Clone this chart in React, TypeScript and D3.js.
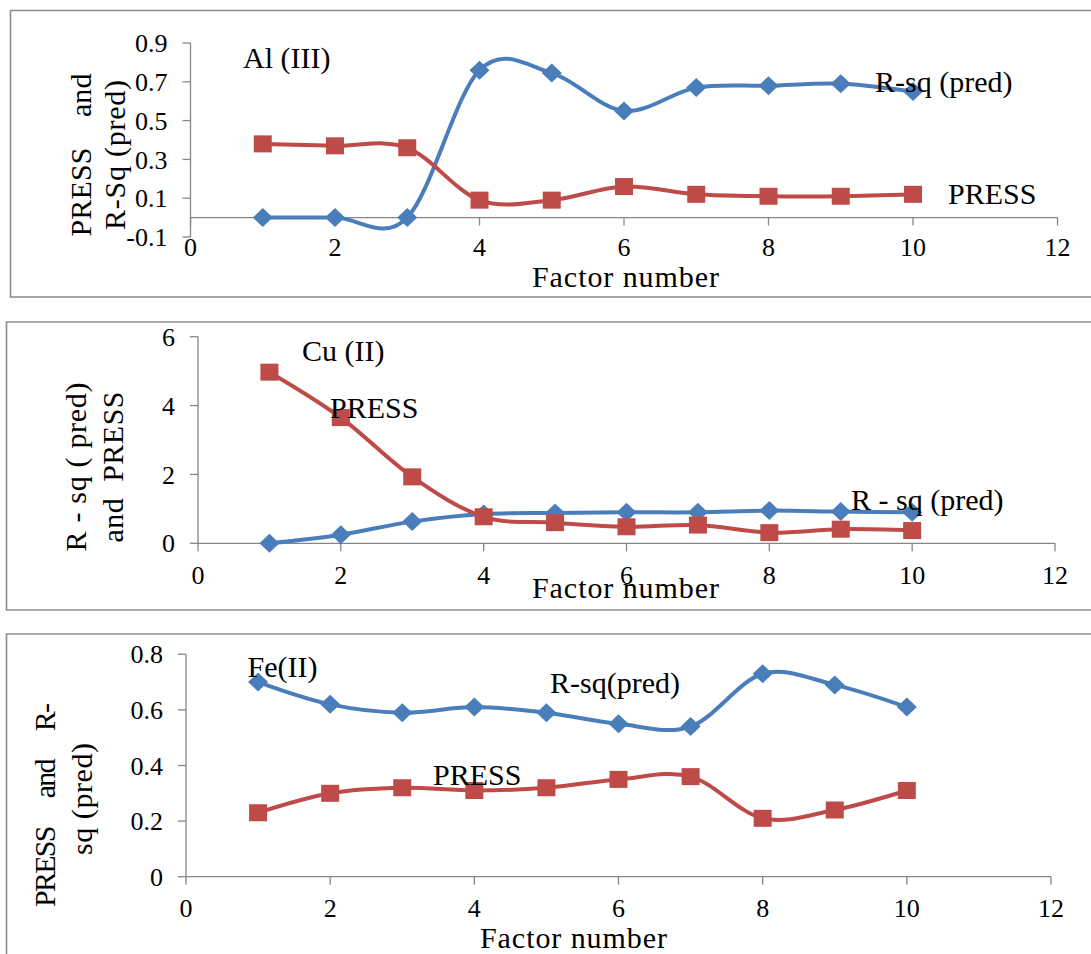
import * as d3 from "d3";

const factors = [1, 2, 3, 4, 5, 6, 7, 8, 9, 10];
const xTicks = [0, 2, 4, 6, 8, 10, 12];

// Al (III)
const alRsq = [0, 0, 0, 0.76, 0.745, 0.55, 0.67, 0.68, 0.69, 0.65];
const alPress = [0.38, 0.37, 0.36, 0.09, 0.09, 0.16, 0.12, 0.11, 0.11, 0.12];
const alYTicks = [-0.1, 0.1, 0.3, 0.5, 0.7, 0.9];

// Cu (II)
const cuRsq = [0, 0.25, 0.63, 0.85, 0.88, 0.9, 0.9, 0.95, 0.92, 0.9];
const cuPress = [4.97, 3.65, 1.93, 0.77, 0.6, 0.48, 0.53, 0.31, 0.41, 0.37];
const cuYTicks = [0, 2, 4, 6];

// Fe (II)
const feRsq = [0.7, 0.62, 0.59, 0.61, 0.59, 0.55, 0.54, 0.73, 0.69, 0.61];
const fePress = [0.23, 0.3, 0.32, 0.31, 0.32, 0.35, 0.36, 0.21, 0.24, 0.31];
const feYTicks = [0, 0.2, 0.4, 0.6, 0.8];

const BLUE = "#4A7EBB";
const RED = "#BE4B48";
const AXIS = "#868686";
const FONT = "'Liberation Serif', 'Times New Roman', serif";

type Label = { text: string; x: number; y: number };
type Panel = {
  frame: { x: number; y: number; bottom: number | null };
  xRange: [number, number];
  yRange: [number, number];
  yTicks: number[];
  rsq: number[];
  press: number[];
  tickBaseline: number;
  title: { x: number; y: number };
  yTitles: { text: string; cx: number; cy: number; len: number }[];
  labels: Label[];
};

const panels: Panel[] = [
  {
    frame: { x: 10.5, y: 10.5, bottom: 297 },
    xRange: [190.5, 1057.5],
    yRange: [237, 43],
    yTicks: alYTicks,
    rsq: alRsq,
    press: alPress,
    tickBaseline: 256,
    title: { x: 532, y: 287 },
    yTitles: [
      { text: "PRESS    and", cx: 81, cy: 155, len: 163 },
      { text: "R-Sq (pred)", cx: 115, cy: 155, len: 150 },
    ],
    labels: [
      { text: "Al (III)", x: 243, y: 68 },
      { text: "R-sq (pred)", x: 875, y: 92 },
      { text: "PRESS", x: 948, y: 204 },
    ],
  },
  {
    frame: { x: 6.5, y: 322, bottom: 610 },
    xRange: [198, 1055],
    yRange: [543.3, 336.7],
    yTicks: cuYTicks,
    rsq: cuRsq,
    press: cuPress,
    tickBaseline: 584,
    title: { x: 532, y: 598 },
    yTitles: [
      { text: "R - sq ( pred)", cx: 76, cy: 467, len: 169 },
      { text: "and  PRESS", cx: 113, cy: 467, len: 151 },
    ],
    labels: [
      { text: "Cu (II)", x: 302, y: 360.7 },
      { text: "PRESS", x: 330, y: 418 },
      { text: "R - sq (pred)", x: 851, y: 510 },
    ],
  },
  {
    frame: { x: 6.5, y: 634, bottom: null },
    xRange: [186, 1051],
    yRange: [876.7, 654.3],
    yTicks: feYTicks,
    rsq: feRsq,
    press: fePress,
    tickBaseline: 916.5,
    title: { x: 480, y: 948 },
    yTitles: [
      { text: "PRESS     and     R-", cx: 45.5, cy: 805, len: 204 },
      { text: "sq (pred)", cx: 82, cy: 799, len: 112 },
    ],
    labels: [
      { text: "Fe(II)", x: 247.5, y: 676.7 },
      { text: "R-sq(pred)", x: 550, y: 692.7 },
      { text: "PRESS", x: 433, y: 785 },
    ],
  },
];

const diamond = "M0,-9.5L10,0L0,9.5L-10,0Z";

function ChartPanel({ p }: { p: Panel }) {
  const x = d3.scaleLinear().domain([0, 12]).range(p.xRange);
  const yMin = p.yTicks[0];
  const yMax = p.yTicks[p.yTicks.length - 1];
  const y = d3.scaleLinear().domain([yMin, yMax]).range(p.yRange);

  const line = d3
    .line<number>()
    .x((_, i) => x(factors[i]))
    .y((d) => y(d))
    .curve(d3.curveCatmullRom.alpha(0));

  const axisY = y(Math.max(0, yMin));
  const f = p.frame;
  const framePath =
    f.bottom === null
      ? `M1095,${f.y}H${f.x}V960`
      : `M1095,${f.y}H${f.x}V${f.bottom}H1095`;

  return (
    <g>
      <path d={framePath} fill="none" stroke="#8a8a8a" strokeWidth={1.6} />

      {/* y axis */}
      <line x1={x(0)} x2={x(0)} y1={y(yMin)} y2={y(yMax)} stroke={AXIS} strokeWidth={1.3} />
      {p.yTicks.map((t) => (
        <g key={"y" + t}>
          <line x1={x(0) - 8} x2={x(0)} y1={y(t)} y2={y(t)} stroke={AXIS} strokeWidth={1.3} />
          <text
            x={x(0) - 23}
            y={y(t)}
            dy="0.35em"
            textAnchor="end"
            fontSize={26}
            fontFamily={FONT}
          >
            {String(t)}
          </text>
        </g>
      ))}

      {/* x axis */}
      <line x1={x(0)} x2={x(12)} y1={axisY} y2={axisY} stroke={AXIS} strokeWidth={1.3} />
      {xTicks.map((t) => (
        <g key={"x" + t}>
          <line x1={x(t)} x2={x(t)} y1={axisY} y2={axisY + 8} stroke={AXIS} strokeWidth={1.3} />
          <text x={x(t)} y={p.tickBaseline} textAnchor="middle" fontSize={26} fontFamily={FONT}>
            {t}
          </text>
        </g>
      ))}

      {/* series */}
      <path d={line(p.rsq) || ""} fill="none" stroke={BLUE} strokeWidth={4} />
      <path d={line(p.press) || ""} fill="none" stroke={RED} strokeWidth={4} />
      {p.rsq.map((v, i) => (
        <path key={"d" + i} d={diamond} transform={`translate(${x(factors[i])},${y(v)})`} fill={BLUE} />
      ))}
      {p.press.map((v, i) => (
        <rect key={"s" + i} x={x(factors[i]) - 9} y={y(v) - 8.5} width={18} height={17} fill={RED} />
      ))}

      {/* titles and labels */}
      <text x={p.title.x} y={p.title.y} fontSize={30} fontFamily={FONT} textLength={187}>
        Factor number
      </text>
      {p.yTitles.map((t) => (
        <text
          key={t.text}
          transform={`translate(${t.cx},${t.cy}) rotate(-90)`}
          dy="0.33em"
          textAnchor="middle"
          fontSize={30}
          fontFamily={FONT}
          textLength={t.len}
          lengthAdjust="spacing"
          style={{ whiteSpace: "pre" }}
        >
          {t.text}
        </text>
      ))}
      {p.labels.map((l) => (
        <text key={l.text} x={l.x} y={l.y} fontSize={30} fontFamily={FONT}>
          {l.text}
        </text>
      ))}
    </g>
  );
}

export default function App() {
  return (
    <svg
      width={1091}
      height={954}
      style={{ position: "absolute", left: 0, top: 0, background: "#fff" }}
    >
      {panels.map((p, i) => (
        <ChartPanel key={i} p={p} />
      ))}
    </svg>
  );
}
